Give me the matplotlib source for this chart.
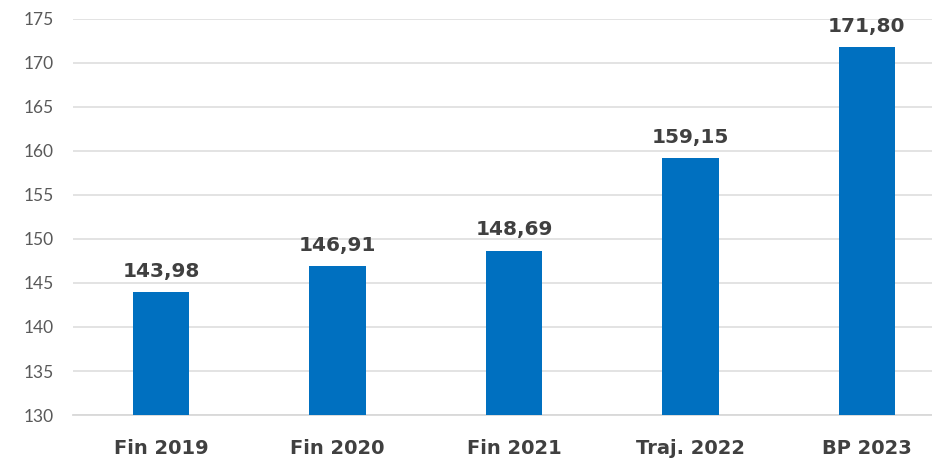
import matplotlib.pyplot as plt

# donnees du graphique
categories = ['Fin 2019', 'Fin 2020', 'Fin 2021', 'Traj. 2022', 'BP 2023']
valeurs = [143.98, 146.91, 148.69, 159.15, 171.80]
etiquettes = ['143,98', '146,91', '148,69', '159,15', '171,80']
graduations = [130, 135, 140, 145, 150, 155, 160, 165, 170, 175]

fig = plt.figure(figsize=(9.32, 4.61), dpi=100)
ax = fig.add_axes([73 / 932, 46 / 461, 882 / 932, 396 / 461])

x = range(len(categories))
barres = ax.bar(x, valeurs, width=0.32, color='#0070C0', zorder=3)

# etiquettes au-dessus des barres
for b, txt in zip(barres, etiquettes):
    ax.annotate(txt, (b.get_x() + b.get_width() / 2, b.get_height()),
                xytext=(0, 8), textcoords='offset points', ha='center', va='bottom',
                fontsize=14.5, fontweight='bold', color='#404040',
                family='DejaVu Sans', annotation_clip=False)

ax.set_ylim(130, 175)
ax.set_xlim(-0.5, len(categories) - 0.5)
ax.set_yticks(graduations)
ax.set_xticks(list(x))
ax.set_xticklabels(categories, fontsize=14, fontweight='bold', color='#404040', family='DejaVu Sans')
ax.tick_params(axis='y', length=0, pad=14, labelsize=12.5, labelcolor='#595959')
ax.tick_params(axis='x', length=0, pad=17)
for lbl in ax.get_yticklabels():
    lbl.set_family('Lato')

ax.grid(axis='y', color='#E0E0E0', linewidth=1.3, zorder=0)
for s in ['top', 'right', 'left']:
    ax.spines[s].set_visible(False)
ax.spines['bottom'].set_color('#D9D9D9')
ax.spines['bottom'].set_linewidth(1.3)

fig.savefig('out.png', dpi=100)
